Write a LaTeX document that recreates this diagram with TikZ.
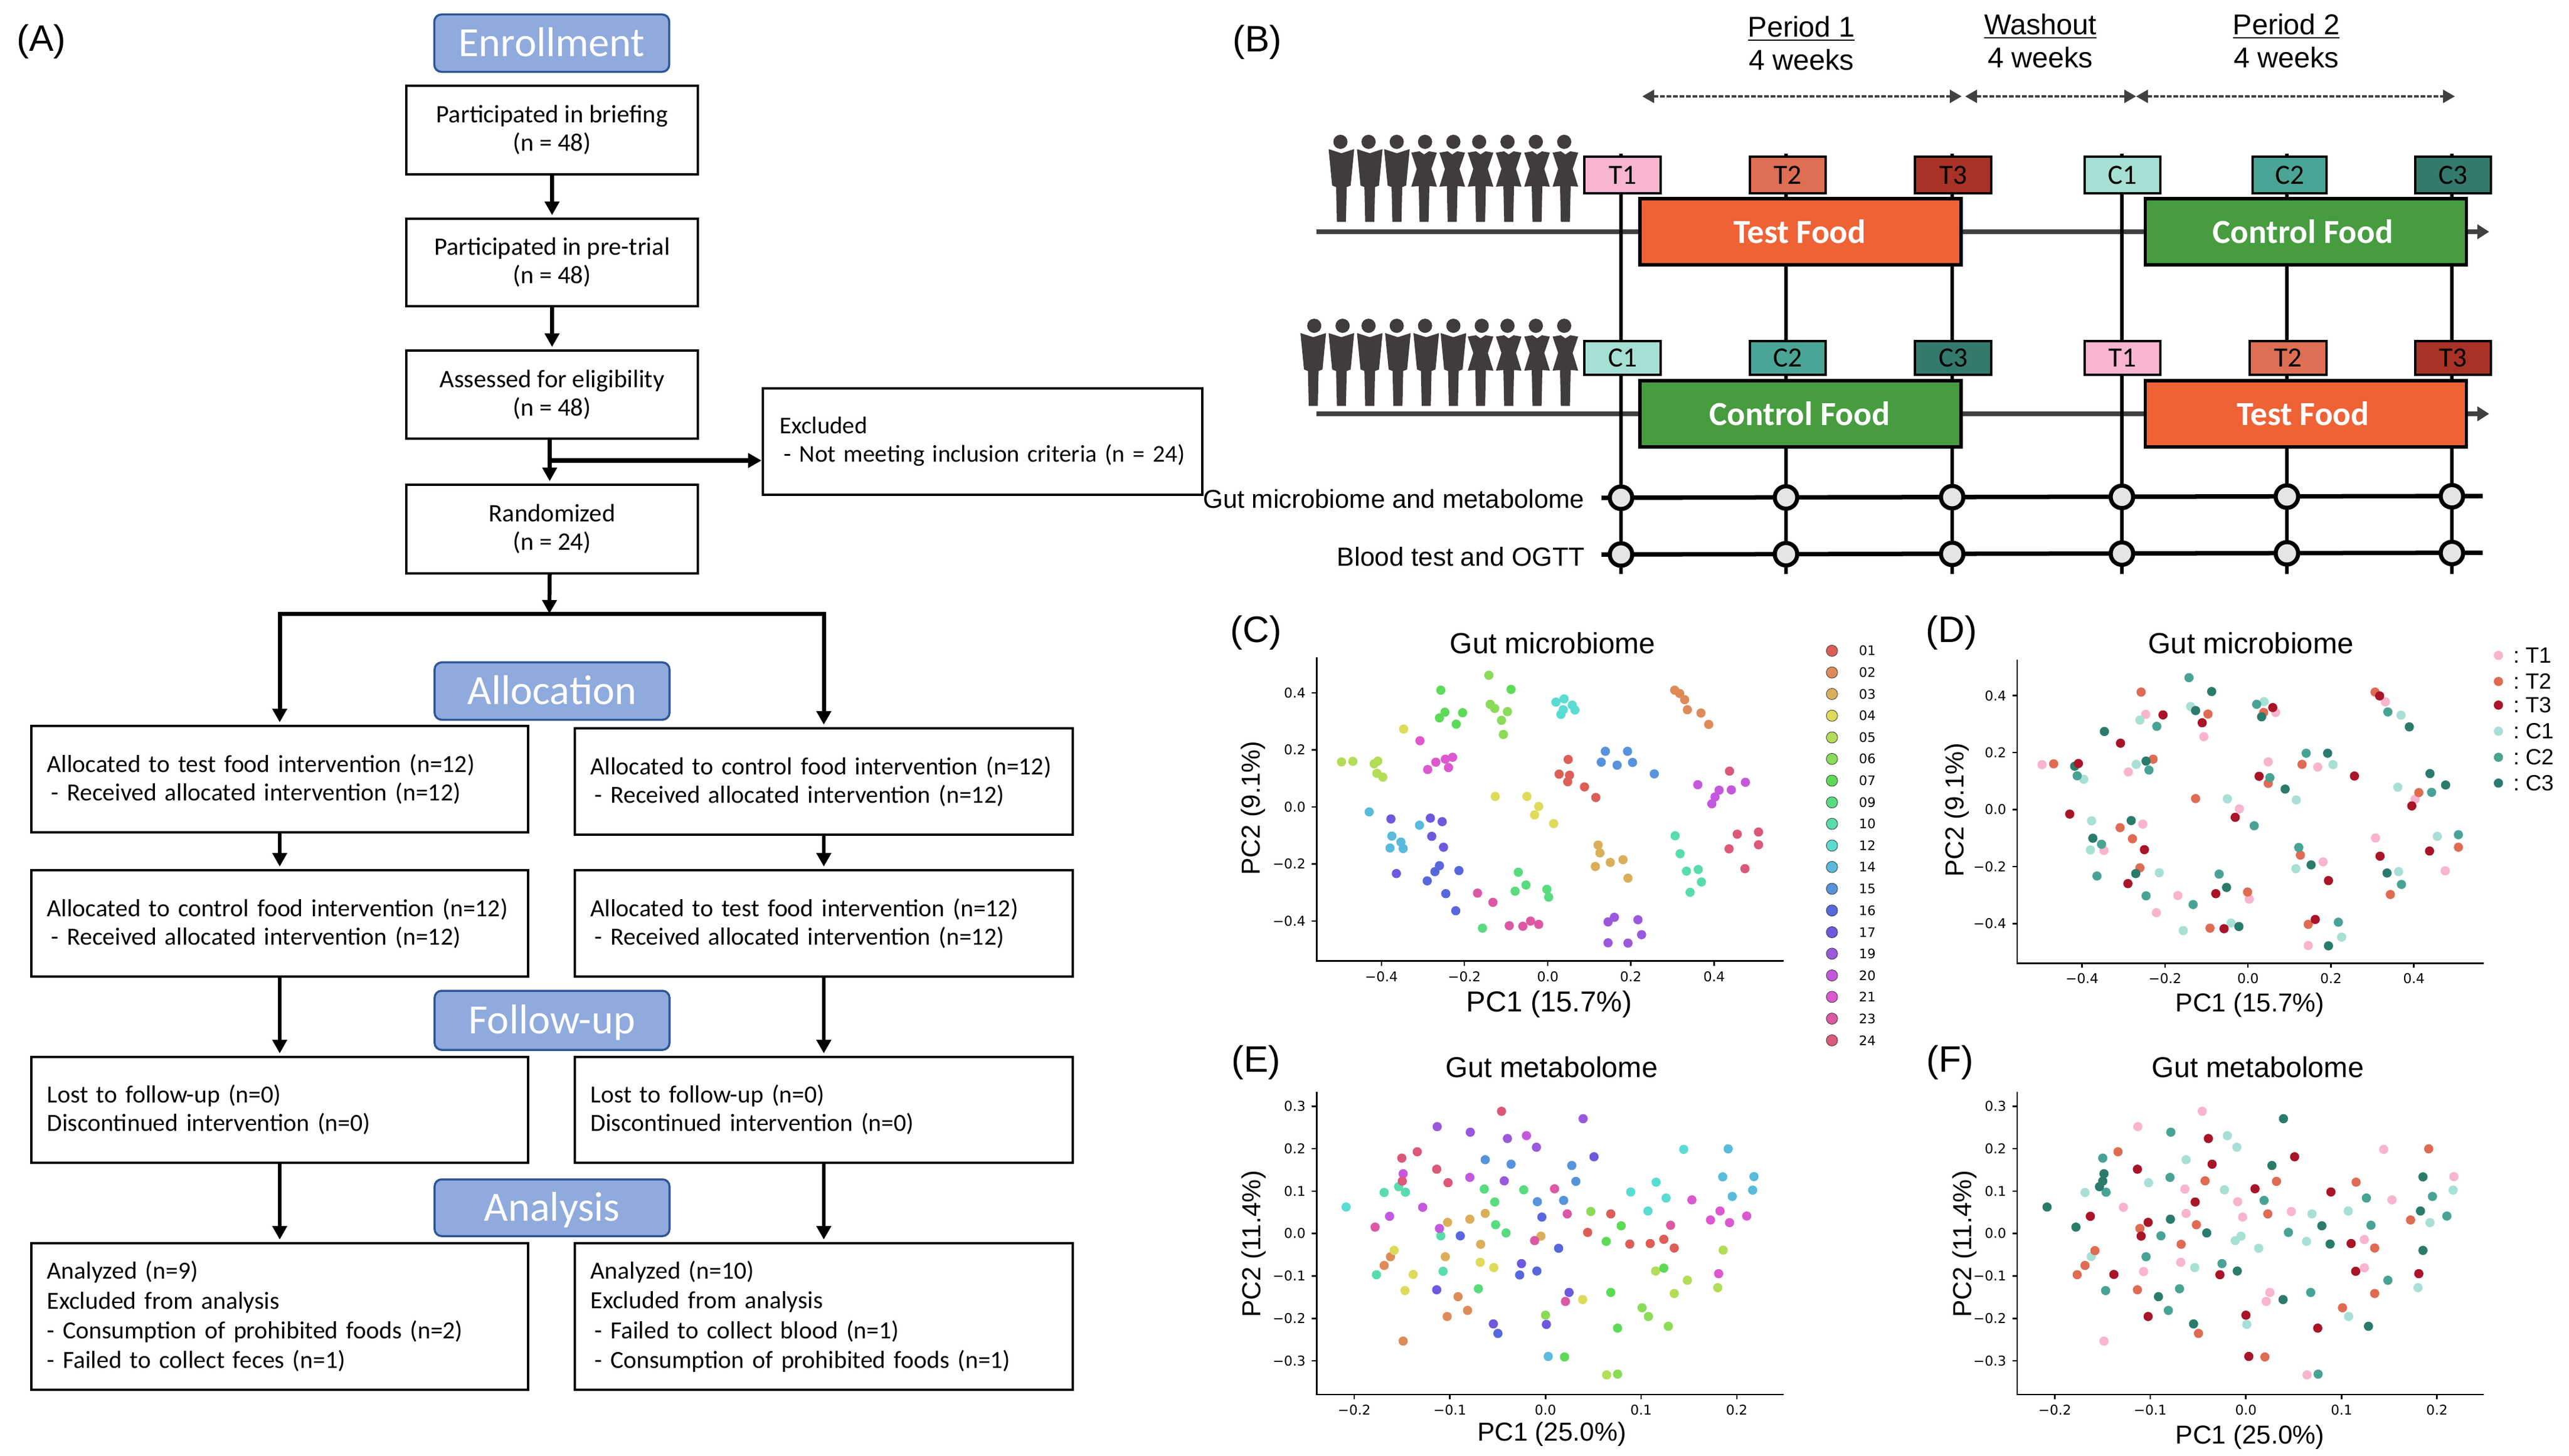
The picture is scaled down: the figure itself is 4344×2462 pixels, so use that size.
\documentclass[tikz,border=0pt]{standalone}
\usepackage{fontspec}
\setmainfont{Liberation Sans}
\newfontfamily\carl{Carlito}
\newfontfamily\djv{DejaVu Sans}
\usetikzlibrary{arrows.meta}
\pgfdeclarelayer{bg}
\pgfsetlayers{bg,main}
\newcommand{\fsz}[2]{\fontsize{#1}{#2}\selectfont}
\definecolor{s01}{HTML}{DC5E57}\definecolor{s02}{HTML}{DD8C59}\definecolor{s03}{HTML}{DBAF5A}
\definecolor{s04}{HTML}{DEDB5A}\definecolor{s05}{HTML}{B3DC58}\definecolor{s06}{HTML}{8ADB58}
\definecolor{s07}{HTML}{5DDB58}\definecolor{s09}{HTML}{59DB80}\definecolor{s10}{HTML}{59DCAC}
\definecolor{s12}{HTML}{5ADCD3}\definecolor{s14}{HTML}{58BBDC}\definecolor{s15}{HTML}{5793DC}
\definecolor{s16}{HTML}{5767DC}\definecolor{s17}{HTML}{6F58DC}\definecolor{s19}{HTML}{9A58DC}
\definecolor{s20}{HTML}{C458DC}\definecolor{s21}{HTML}{DC58D0}\definecolor{s23}{HTML}{DC58A4}
\definecolor{s24}{HTML}{DC5878}
\definecolor{tA}{HTML}{F9B4CF}\definecolor{tB}{HTML}{E06B53}\definecolor{tC}{HTML}{A81428}
\definecolor{cA}{HTML}{A8E0D5}\definecolor{cB}{HTML}{49A395}\definecolor{cC}{HTML}{2B7B6C}
\definecolor{secfill}{HTML}{8FAADC}\definecolor{secdraw}{HTML}{2F5597}
\definecolor{testfood}{HTML}{EE6236}\definecolor{ctrlfood}{HTML}{469C3F}
\definecolor{greybar}{HTML}{404040}\definecolor{people}{HTML}{403C3B}
\definecolor{tboxA}{HTML}{F7B5D0}\definecolor{tboxB}{HTML}{DE6E54}\definecolor{tboxC}{HTML}{A93226}
\definecolor{cboxA}{HTML}{A6DFD3}\definecolor{cboxB}{HTML}{4AA596}\definecolor{cboxC}{HTML}{347A6C}
\tikzset{
  panel/.style={font=\fsz{17.7}{20},inner sep=0},
  secbox/.style={draw=secdraw,fill=secfill,line width=0.035cm,rounded corners=0.12cm,text=white,
    font=\carl\fsz{20}{22},minimum width=3.97cm,minimum height=0.97cm,inner sep=0,text height=0.45cm,text depth=0cm},
  cbox/.style={draw,line width=0.04cm,font=\carl\fsz{12.1}{13.66},align=center,minimum width=4.93cm,inner sep=0},
  lbox/.style={draw,line width=0.04cm,font=\carl\fsz{11.85}{13.66},align=left,text width=7.86cm,inner ysep=0,inner xsep=0.27cm},
  flow/.style={line width=0.065cm,-{Triangle[width=0.24cm,length=0.23cm]},shorten >=0.04cm},
  timebox/.style={draw,line width=0.04cm,font=\carl\fsz{13.4}{15},minimum height=0.6cm,inner sep=0},
  foodbox/.style={draw,line width=0.055cm,text=white,font=\carl\bfseries\fsz{16.2}{18},minimum width=5.43cm,minimum height=1.12cm,inner sep=0},
  grid/.style={line width=0.06cm,black},
  meas/.style={line width=0.075cm,black},
  mcirc/.style={circle,draw,line width=0.07cm,fill=black!10,minimum size=0.38cm,inner sep=0},
  trackbar/.style={line width=0.08cm,greybar,-{Triangle[width=0.24cm,length=0.2cm]}},
  period/.style={line width=0.035cm,greybar,dash pattern=on 0.08cm off 0.03cm,
    {Triangle[width=0.22cm,length=0.2cm]}-{Triangle[width=0.22cm,length=0.2cm]}},
  headtxt/.style={font=\fsz{13.8}{15.9},align=center,inner sep=0},
  rowlab/.style={font=\fsz{12.4}{16},anchor=east,inner sep=0},
  axisline/.style={line width=0.025cm,black},
  ticklab/.style={font=\djv\fsz{6.5}{8},inner sep=0},
  plottitle/.style={font=\fsz{14}{16},inner sep=0},
  axlab/.style={font=\fsz{12.5}{14},inner sep=0},
  yaxlab/.style={font=\fsz{12.5}{14},inner sep=0,rotate=90},
}
\newcommand{\pts}[2]{\foreach \p in {#2}{\fill[#1] \p circle[radius=0.078cm];}}
\newcommand{\axesplot}[7]{%
  \draw[axisline] (#2,#3) -- (#2,#4) -- (#5,#4);
  \foreach \t/\l in {#6}{\draw[axisline] (#2,\t) -- ++(-0.08cm,0);
    \node[ticklab,anchor=east] (#1y\t) at ([xshift=-0.18cm]#2,\t) {\l};}
  \foreach \t/\l in {#7}{\draw[axisline] (\t,#4) -- ++(0,-0.08cm);
    \node[ticklab] (#1x\t) at ([yshift=-0.26cm]\t,#4) {\l};}
}
\newcommand{\manfig}[3]{% body centre x, head x, y offset (zoom px)
  \fill[people] (#2,120+#3) circle[radius=0.12cm];
  \fill[people,shift={(#1-235,#3)}] (170,157)--(235,178)--(300,157)--(282,342)--(262,350)--(258,527)--(212,527)--(208,350)--(188,342)--cycle;
}
\newcommand{\womfig}[3]{%
  \fill[people] (#2,120+#3) circle[radius=0.12cm];
  \fill[people,shift={(#1-655,#3)}] (590,175)--(632,168)--(655,184)--(680,168)--(720,175)--(692,258)--(720,348)--(682,345)--(678,527)--(632,527)--(628,345)--(590,348)--(618,258)--cycle;
}
\begin{document}
\begin{tikzpicture}[x=0.01cm,y=-0.01cm]
\useasboundingbox (0,0) rectangle (4344,2462);

%% ---------- Panel A
\node[panel] (lblA) at (70,70) {(A)};
\node[secbox] (secEnr) at (933,73) {Enrollment};
\node[cbox,minimum height=1.5cm] (bBrief) at (933.5,220) {Participated in briefing\\(n = 48)};
\node[cbox,minimum height=1.48cm] (bPre) at (933.5,444) {Participated in pre-trial\\(n = 48)};
\node[cbox,minimum height=1.49cm] (bElig) at (933.5,667.5) {Assessed for eligibility\\(n = 48)};
\node[cbox,minimum height=1.5cm] (bRand) at (933.5,895) {Randomized\\(n = 24)};
\node[lbox,font=\carl\fsz{11.6}{13.66},text width=6.85cm,inner xsep=0.29cm,minimum height=1.8cm] (bExcl) at (1661.5,747) {Excluded\\\hspace*{0.07cm}- Not meeting inclusion criteria (n = 24)};
\draw[flow] (bBrief) -- (bPre);
\draw[flow] (bPre) -- (bElig);
\draw[flow] ([xshift=-0.04cm]bElig.south) -- ([xshift=-0.04cm]bRand.north);
\coordinate (exclStart) at (929,779);
\draw[line width=0.08cm,-{Triangle[width=0.24cm,length=0.23cm]}] (exclStart) -- (exclStart -| bExcl.west);
\coordinate (jct) at (929,1038);
\draw[flow,shorten >=0cm] ([xshift=-0.04cm]bRand.south) -- (jct);

\node[secbox] (secAll) at (933.5,1169) {Allocation};
\node[lbox,minimum height=1.8cm] (L1) at (473,1318) {Allocated to test food intervention (n=12)\\\hspace*{0.07cm}- Received allocated intervention (n=12)};
\node[lbox,text width=7.88cm,minimum height=1.8cm] (R1) at (1393,1322) {Allocated to control food intervention (n=12)\\\hspace*{0.07cm}- Received allocated intervention (n=12)};
\node[lbox,minimum height=1.8cm] (L2) at (473,1562) {Allocated to control food intervention (n=12)\\\hspace*{0.07cm}- Received allocated intervention (n=12)};
\node[lbox,text width=7.88cm,minimum height=1.8cm] (R2) at (1393,1562) {Allocated to test food intervention (n=12)\\\hspace*{0.07cm}- Received allocated intervention (n=12)};
\node[secbox,minimum height=1cm] (secFol) at (933.5,1726) {Follow-up};
\node[lbox,minimum height=1.79cm] (L3) at (473,1877.5) {Lost to follow-up (n=0)\\Discontinued intervention (n=0)};
\node[lbox,text width=7.88cm,minimum height=1.79cm] (R3) at (1393,1877.5) {Lost to follow-up (n=0)\\Discontinued intervention (n=0)};
\node[secbox,minimum height=0.96cm] (secAna) at (933.5,2043) {Analysis};
\node[lbox,font=\carl\fsz{11.85}{14.3},minimum height=2.48cm] (L4) at (473,2227) {Analyzed (n=9)\\Excluded from analysis\\- Consumption of prohibited foods (n=2)\\- Failed to collect feces (n=1)};
\node[lbox,font=\carl\fsz{11.85}{14.3},text width=7.88cm,minimum height=2.48cm] (R4) at (1393,2227) {Analyzed (n=10)\\Excluded from analysis\\\hspace*{0.07cm}- Failed to collect blood (n=1)\\\hspace*{0.07cm}- Consumption of prohibited foods (n=1)};
\draw[flow,line width=0.07cm,{Triangle[width=0.24cm,length=0.23cm]}-{Triangle[width=0.24cm,length=0.23cm]},shorten <=0.04cm]
  (L1.north) -- (L1.north |- jct) -- (R1.north |- jct) -- (R1.north);
\foreach \a/\b in {L1/L2,R1/R2,L2/L3,R2/R3,L3/L4,R3/R4}{\draw[flow] (\a) -- (\b);}

%% ---------- Panel B
\node[panel] (lblB) at (2126,71) {(B)};
\node[headtxt] (hP1) at (3046,73) {\underline{Period 1}\\4 weeks};
\node[headtxt] (hWash) at (3450,69) {\underline{Washout}\\4 weeks};
\node[headtxt] (hP2) at (3866,69) {\underline{Period 2}\\4 weeks};
\coordinate (pa) at (2777,163); \coordinate (pb) at (3317,163); \coordinate (pc) at (3323,163);
\coordinate (pd) at (3612,163); \coordinate (pe) at (3612,163); \coordinate (pf) at (4151,163);
\draw[period] (pa) -- (pb);
\draw[period] (pc) -- (pd);
\draw[period] (pe) -- (pf);

\begin{scope}[shift={(2190,200)},x=0.003333cm,y=-0.003333cm]
  \foreach \b/\h in {235/230,379/373,517/516}{\manfig{\b}{\h}{0}}
  \foreach \b/\h in {655/660,798/804,942/935,1085/1079,1229/1223,1373/1367}{\womfig{\b}{\h}{0}}
  \foreach \b/\h in {92/97,235/241,379/373,522/516,666/660,804/804}{\manfig{\b}{\h}{935}}
  \foreach \b/\h in {942/948,1085/1079,1229/1223,1373/1367}{\womfig{\b}{\h}{935}}
\end{scope}

\foreach \n/\t/\c/\x/\w in {1/T1/tboxA/2743.5/129,2/T2/tboxB/3023/128,3/T3/tboxC/3302.5/129,4/C1/cboxA/3589/128,5/C2/cboxB/3871.5/125,6/C3/cboxC/4148/128}{
  \node[timebox,fill=\c,minimum width=\w*0.01cm,minimum height=0.62cm] (ta\n) at (\x,296) {\t};}
\foreach \n/\t/\c/\x/\w in {1/C1/cboxA/2743.5/129,2/C2/cboxB/3023/128,3/C3/cboxC/3302.5/129,4/T1/tboxA/3589/128,5/T2/tboxB/3869/130,6/T3/tboxC/4148/128}{
  \node[timebox,fill=\c,minimum width=\w*0.01cm,minimum height=0.57cm] (tb\n) at (\x,605.5) {\t};}
\node[foodbox,fill=testfood] (fa1) at (3044.5,392) {Test Food\hspace*{0.03cm}};
\node[foodbox,fill=ctrlfood] (fa2) at (3899,392) {Control Food\hspace*{0.1cm}};
\node[foodbox,fill=ctrlfood] (fb1) at (3044.5,700) {Control Food\hspace*{0.03cm}};
\node[foodbox,fill=testfood] (fb2) at (3899,700) {Test Food\hspace*{0.1cm}};

\coordinate (vtop) at (0,260); \coordinate (vbot) at (0,971);
\foreach \n/\x/\a/\b in {1/2741/842/938,2/3020/841.5/937.5,3/3301/841/937,4/3588/840.5/936.5,5/3867/840/936,6/4146/839.5/935.5}{
  \node[mcirc] (m\n) at (\x,\a) {};
  \node[mcirc] (n\n) at (\x,\b) {};
}
\node[rowlab] (labGut) at (2680,844) {Gut microbiome and metabolome};
\node[rowlab,font=\fsz{12.6}{16}] (labBlood) at (2680,942) {Blood test and OGTT};
\coordinate (gs) at (2708,842); \coordinate (ge) at (4198,839);
\coordinate (bs) at (2708,938); \coordinate (be) at (4198,935);
\coordinate (ts) at (2226,392); \coordinate (te) at (4209,392);
\coordinate (us) at (2226,700); \coordinate (ue) at (4209,700);
\begin{pgfonlayer}{bg}
  \draw[trackbar] (ts) -- (te);
  \draw[trackbar] (us) -- (ue);
  \foreach \n in {1,...,6}{\draw[grid] (n\n |- vtop) -- (n\n |- vbot);}
  \draw[meas] (gs) -- (ge);
  \draw[meas] (bs) -- (be);
\end{pgfonlayer}

%% ---------- Panel C
\node[panel] (lblC) at (2124,1070) {(C)};
\begin{scope}[shift={(2050,1020)},x=0.007653cm,y=-0.004592cm]
  \axesplot{C}{230}{200}{1318}{1261}{331/0.4,541/0.2,751/0.0,961/−0.2,1171/−0.4}{373/−0.4,556/−0.2,740/0.0,923/0.2,1107/0.4}
  \node[plottitle] (titC) at (751,147) {Gut microbiome};
  \node[axlab,font=\fsz{13.9}{16}] (xlC) at (743,1478) {PC1 (15.7\%)};
  \node[yaxlab] (ylC) at (90,755) {PC2 (9.1\%)};
  \pts{s01}{(785,576),(765,630),(788,634),(784,658),(821,677),(846,716)}
  \pts{s02}{(1020,321),(1031,333),(1042,356),(1048,393),(1078,405),(1095,447)}
  \pts{s03}{(851,891),(855,920),(906,945),(878,955),(845,970),(917,1013)}
  \pts{s04}{(422,464),(624,712),(694,712),(720,749),(711,780),(753,812)}
  \pts{s05}{(285,585),(310,583),(365,582),(357,592),(363,627),(376,641)}
  \pts{s06}{(610,266),(613,373),(623,388),(651,400),(638,432),(642,484)}
  \pts{s07}{(504,321),(659,318),(513,402),(501,423),(552,404),(538,446)}
  \pts{s09}{(675,991),(692,1038),(668,1061),(738,1054),(742,1083),(596,1197)}
  \pts{s10}{(1021,857),(1032,923),(1046,987),(1072,981),(1079,1027),(1054,1065)}
  \pts{s12}{(776,353),(758,365),(794,376),(774,393),(800,394),(769,410)}
  \pts{s14}{(346,769),(457,818),(396,858),(416,880),(392,902),(421,904)}
  \pts{s15}{(867,546),(916,546),(858,586),(893,597),(927,587),(975,629)}
  \pts{s16}{(501,967),(491,989),(544,985),(474,1023),(515,1070),(537,1133)}
  \pts{s17}{(394,795),(481,792),(507,805),(484,859),(510,899),(406,996)}
  \pts{s19}{(887,1157),(939,1166),(873,1174),(947,1221),(873,1251),(917,1252)}
  \pts{s20}{(1071,669),(1118,689),(1145,688),(1176,660),(1109,714),(1102,739)}
  \pts{s21}{(458,507),(530,568),(514,575),(493,586),(521,606),(475,613)}
  \pts{s23}{(585,1068),(619,1102),(702,1171),(720,1183),(685,1190),(655,1188)}
  \pts{s24}{(1141,619),(1158,851),(1205,843),(1205,890),(1140,905),(1175,978)}
  \foreach \l/\y in {01/176,02/256,03/335,04/415,05/495,06/574,07/654,09/734,10/813,12/893,14/972,15/1052,16/1132,17/1212,19/1291,20/1371,21/1450,23/1530,24/1610}{
    \filldraw[fill=s\l,draw=black!80,line width=0.008cm] (1367,\y) circle[radius=0.095cm];
    \node[ticklab,font=\djv\fsz{6.3}{8}] (legC\l) at (1445,\y) {\l};
  }
\end{scope}

%% ---------- Panel D
\node[panel] (lblD) at (3300,1070) {(D)};
\begin{scope}[shift={(3250,1020)},x=0.006977cm,y=-0.004592cm]
  \axesplot{D}{231}{209}{1326}{1362}{341/0.4,551/0.2,760/0.0,970/−0.2,1180/−0.4}{388/−0.4,589/−0.2,790/0.0,991/0.2,1192/0.4}
  \node[plottitle] (titD) at (797,147) {Gut microbiome};
  \node[axlab] (xlD) at (795,1480) {PC1 (15.7\%)};
  \node[yaxlab] (ylD) at (85,762) {PC2 (9.1\%)};
  \pts{tA}{(291,595),(542,410),(857,403),(1123,364),(683,492),(839,585),(959,604),(500,622),(1195,722),(769,758),(535,814),(441,911),(1099,865),(972,953),(1268,986),(620,1077),(793,1090),(568,1140),(936,1261)}
  \pts{tB}{(319,592),(531,328),(693,409),(828,403),(1098,328),(560,575),(921,594),(839,664),(663,720),(1204,698),(480,827),(510,868),(917,928),(1300,899),(528,975),(1135,1073),(789,1064),(698,1197),(936,1183)}
  \pts{cA}{(392,649),(651,381),(829,363),(1161,413),(528,431),(519,594),(996,595),(1153,678),(740,721),(907,725),(411,802),(408,909),(1249,859),(906,978),(1155,989),(575,993),(749,1178),(633,1206),(1017,1230)}
  \pts{cB}{(647,275),(811,373),(1129,401),(569,454),(931,553),(550,615),(376,636),(843,643),(1235,697),(805,820),(435,888),(1300,853),(913,900),(424,1005),(1162,1036),(720,998),(543,1078),(657,1110),(1009,1175)}
  \pts{cC}{(702,326),(663,396),(823,419),(442,473),(1181,456),(983,553),(543,582),(370,601),(1231,628),(1269,670),(880,685),(507,801),(414,866),(943,964),(1127,994),(518,996),(738,1047),(768,1191),(985,1262)}
  \pts{tC}{(379,591),(584,412),(679,441),(850,385),(1109,342),(481,516),(817,638),(1048,637),(1187,747),(358,777),(759,789),(539,908),(1230,913),(1110,932),(985,1022),(499,1033),(712,1070),(732,1199),(953,1165)}
  \foreach \c/\l/\y in {tA/T1/193,tB/T2/289,tC/T3/376,cA/C1/472,cB/C2/568,cC/C3/663}{
    \fill[\c] (1397,\y) circle[radius=0.078cm];
    \node[font=\fsz{10.6}{11},anchor=west,inner sep=0] (legD\l) at (1432,\y) {:\ \l};
  }
\end{scope}

%% ---------- Panel E
\node[panel] (lblE) at (2124,1797) {(E)};
\begin{scope}[shift={(2050,1760)},x=0.007653cm,y=-0.004477cm]
  \axesplot{E}{230}{194}{1339}{1261}{249/0.3,409/0.2,570/0.1,730/0.0,891/−0.1,1052/−0.2,1212/−0.3}{313/−0.2,524/−0.1,735/0.0,946/0.1,1157/0.2}
  \node[plottitle,font=\fsz{13.8}{16}] (titE) at (749,100) {Gut metabolome};
  \node[axlab] (xlE) at (749,1490) {PC1 (25.0\%)};
  \node[yaxlab] (ylE) at (92,770) {PC2 (11.4\%)};
  \pts{s01}{(879,656),(828,726),(996,752),(921,770),(966,768),(1019,785)}
  \pts{s02}{(393,818),(379,851),(542,969),(563,1021),(518,1044),(421,1137)}
  \pts{s03}{(602,654),(568,676),(519,688),(725,740),(592,771),(514,818)}
  \pts{s04}{(401,794),(443,885),(591,839),(621,859),(425,946),(817,980)}
  \pts{s05}{(1127,793),(978,872),(1048,907),(1115,935),(1019,957),(870,1265)}
  \pts{s06}{(835,647),(948,1011),(962,1044),(735,1039),(1006,1081),(894,1262)}
  \pts{s07}{(902,701),(996,861),(879,953),(894,1088),(777,1197),(869,760)}
  \pts{s09}{(600,562),(687,565),(623,611),(625,697),(648,728),(587,939)}
  \pts{s10}{(411,553),(379,575),(426,574),(504,739),(509,873),(362,886)}
  \pts{s12}{(1040,412),(979,536),(923,573),(1001,596),(961,645),(295,630)}
  \pts{s14}{(1138,410),(1126,516),(1195,515),(1192,566),(1147,590),(741,1195)}
  \pts{s15}{(602,451),(659,468),(793,473),(802,533),(717,610),(775,605)}
  \pts{s16}{(727,668),(547,739),(764,786),(716,872),(678,887),(630,1108)}
  \pts{s17}{(842,440),(682,844),(495,943),(787,953),(737,1074),(620,1072)}
  \pts{s19}{(496,326),(569,347),(651,371),(818,296),(715,404),(644,531)}
  \pts{s20}{(693,360),(421,504),(568,518),(464,631),(391,665),(501,711)}
  \pts{s21}{(1058,603),(1120,645),(1099,679),(1179,664),(1141,689),(1117,882)}
  \pts{s23}{(783,656),(1011,699),(755,561),(711,757),(779,987),(359,706)}
  \pts{s24}{(638,268),(452,421),(418,445),(495,487),(419,532),(520,538)}
\end{scope}

%% ---------- Panel F
\node[panel] (lblF) at (3297,1797) {(F)};
\begin{scope}[shift={(3250,1760)},x=0.006977cm,y=-0.004477cm]
  \axesplot{F}{231}{194}{1339}{1362}{249/0.3,409/0.2,570/0.1,730/0.0,891/−0.1,1052/−0.2,1212/−0.3}{322/−0.2,553/−0.1,785/0.0,1017/0.1,1248/0.2}
  \node[plottitle,font=\fsz{13.8}{16}] (titF) at (814,100) {Gut metabolome};
  \node[axlab] (xlF) at (795,1500) {PC1 (25.0\%)};
  \node[yaxlab] (ylF) at (103,770) {PC2 (11.4\%)};
  \pts{tA}{(679,268),(523,326),(1119,412),(637,562),(1289,515),(765,610),(1139,603),(488,631),(640,654),(777,668),(895,647),(1072,753),(627,839),(1072,860),(537,874),(843,953),(834,987),(441,1137),(933,1265)}
  \pts{cA}{(740,360),(763,404),(640,451),(549,538),(733,565),(395,575),(1287,566),(945,656),(1033,645),(1231,689),(773,740),(759,757),(932,760),(816,786),(410,817),(661,859),(1202,935),(1034,1044),(787,1074)}
  \pts{tB}{(475,421),(1228,410),(686,531),(859,533),(1052,536),(838,656),(665,697),(1184,679),(528,711),(628,771),(1097,785),(419,795),(395,851),(376,886),(522,943),(1097,957),(1019,1011),(670,1108),(831,1197)}
  \pts{cB}{(603,347),(438,445),(601,518),(446,574),(1077,596),(829,605),(1272,664),(1237,590),(1088,699),(888,726),(579,739),(543,818),(727,844),(445,946),(624,939),(942,953),(1129,907),(597,1021),(960,1262)}
  \pts{tC}{(694,371),(903,440),(703,468),(522,487),(807,561),(991,573),(662,611),(408,665),(548,688),(531,740),(1040,768),(1051,873),(722,886),(465,885),(1204,882),(548,1044),(785,1039),(959,1088),(792,1195)}
  \pts{cC}{(876,296),(848,473),(441,504),(438,532),(430,553),(303,630),(373,706),(602,676),(1214,516),(1208,645),(969,701),(690,728),(989,770),(1214,794),(764,872),(573,969),(875,980),(1082,1081),(658,1072)}
\end{scope}
\end{tikzpicture}
\end{document}
